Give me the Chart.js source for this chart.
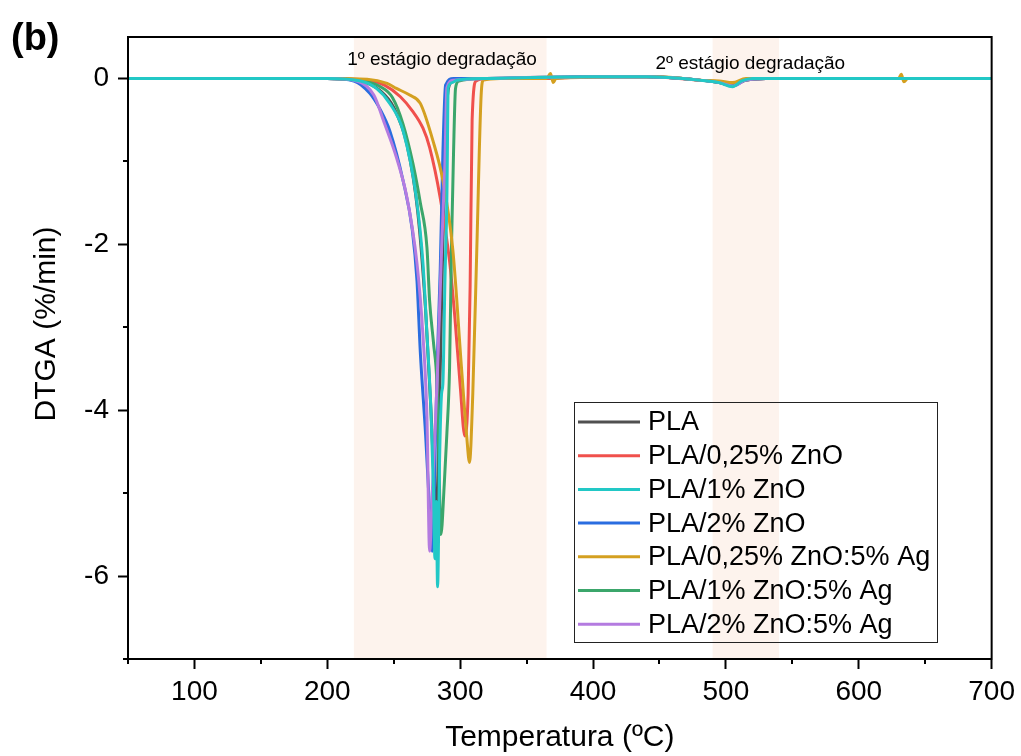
<!DOCTYPE html>
<html>
<head>
<meta charset="utf-8">
<script src="https://cdn.jsdelivr.net/npm/chart.js@4.4.1/dist/chart.umd.min.js"></script>
<style>
  body { margin: 0; background: #fff; }
  canvas { display: block; }
</style>
</head>
<body>
<canvas id="myChart" width="1021" height="756"></canvas>
<script>
// temperatures (ºC) and DTGA values (%/min)
const plaT = [50, 200, 225, 240, 250, 260, 268, 274, 278, 282, 285, 288, 290, 293, 300, 350, 400, 440, 480, 495, 505, 515, 530, 700];
const plaY = [0, 0, -0.03, -0.15, -0.35, -0.8, -1.6, -2.8, -4.0, -5.2, -3.5, -1.2, -0.3, -0.05, 0, 0, 0.02, 0.02, -0.02, -0.05, -0.08, -0.02, 0, 0];

const zn025T = [50, 200, 230, 243, 255, 264, 272, 277, 285, 292, 296, 300, 303.5, 306, 307.5, 309, 312, 320, 360, 400, 440, 480, 495, 505, 515, 530, 700];
const zn025Y = [0, 0, -0.02, -0.08, -0.22, -0.39, -0.6, -0.83, -1.44, -2.2, -2.88, -3.7, -4.31, -3.8, -2.5, -0.5, -0.03, 0, 0, 0.02, 0.02, -0.02, -0.04, -0.07, -0.02, 0, 0];

const zn1T = [50, 200, 225, 237, 247, 257, 267, 272, 275, 278, 280, 281, 282, 283, 284.5, 286, 287, 288.5, 290, 291, 294, 297.5, 320, 400, 440, 480, 495, 505, 512, 520, 700];
const zn1Y = [0, 0, -0.03, -0.12, -0.3, -0.63, -1.44, -2.23, -3.08, -4.0, -5.0, -5.79, -5.1, -6.13, -4.6, -3.8, -3.68, -2.47, -1.44, -0.11, -0.05, -0.02, 0, 0.02, 0.02, -0.02, -0.05, -0.1, -0.03, 0, 0];

const zn2T = [50, 200, 220, 232, 240, 247, 257, 264, 267.5, 270, 274, 277, 279, 281, 283, 285, 287, 289, 295, 320, 400, 440, 480, 495, 505, 515, 530, 700];
const zn2Y = [0, 0, -0.03, -0.18, -0.38, -0.63, -1.23, -1.83, -2.44, -3.3, -4.3, -5.2, -5.7, -4.6, -3.3, -2.3, -0.9, -0.08, 0, 0, 0.02, 0.02, -0.02, -0.05, -0.09, -0.02, 0, 0];

const zn025AgT = [50, 200, 230, 245, 252, 262, 270, 279.5, 287, 294.5, 301, 305, 307, 309.5, 312.5, 316, 317.5, 330, 365, 368, 370, 372, 380, 420, 450, 480, 495, 505, 515, 530, 630, 632, 634, 637, 700];
const zn025AgY = [0, 0, -0.01, -0.06, -0.12, -0.2, -0.3, -0.75, -1.23, -2.07, -3.49, -4.33, -4.63, -3.8, -2.07, -0.14, -0.02, 0, 0, 0.06, -0.05, 0, 0.01, 0.02, 0.02, -0.02, -0.03, -0.05, 0, 0, 0, 0.05, -0.04, 0, 0];

const zn1AgT = [50, 200, 225, 240, 249, 257, 264.5, 270, 275, 277, 280, 282.5, 284, 285.5, 288, 290, 292, 293.5, 295, 296.5, 299, 320, 400, 440, 480, 495, 505, 515, 530, 700];
const zn1AgY = [0, 0, -0.02, -0.1, -0.23, -0.55, -1.03, -1.5, -2.04, -2.68, -3.2, -3.68, -4.6, -5.5, -4.9, -4.28, -3.5, -2.0, -0.9, -0.12, -0.03, 0, 0.02, 0.02, -0.02, -0.05, -0.08, -0.02, 0, 0];

const zn2AgT = [50, 200, 222, 235, 243, 252, 260, 267.5, 272, 275, 277, 279, 281, 283, 286, 288.5, 290, 295, 320, 400, 440, 480, 495, 505, 515, 530, 700];
const zn2AgY = [0, 0, -0.03, -0.2, -0.54, -0.95, -1.44, -2.23, -3.1, -4.09, -5.7, -5.0, -4.3, -3.49, -2.07, -1.03, -0.11, -0.02, 0, 0.02, 0.02, -0.02, -0.05, -0.09, -0.02, 0, 0];

const seriesLabels = ['PLA', 'PLA/0,25% ZnO', 'PLA/1% ZnO', 'PLA/2% ZnO', 'PLA/0,25% ZnO:5% Ag', 'PLA/1% ZnO:5% Ag', 'PLA/2% ZnO:5% Ag'];
const seriesColors = ['#505050', '#f0504c', '#22c8c6', '#2a6de0', '#d4a020', '#3ba66b', '#b47be0'];
const seriesT = [plaT, zn025T, zn1T, zn2T, zn025AgT, zn1AgT, zn2AgT];
const seriesY = [plaY, zn025Y, zn1Y, zn2Y, zn025AgY, zn1AgY, zn2AgY];
// lower order = drawn on top
const drawOrder = [7, 6, 1, 5, 3, 4, 2];

const xTicks = [50, 100, 150, 200, 250, 300, 350, 400, 450, 500, 550, 600, 650, 700];
const yTicks = [-7, -6, -5, -4, -3, -2, -1, 0];

// shaded degradation stages and their captions
const stageRanges = [[220, 365], [490, 540]];
const stageLabels = ['1º estágio degradação', '2º estágio degradação'];
const stageLabelX = [215, 447];

const FONT = '"Liberation Sans", Arial, sans-serif';

function makeData(ts, ys){
    let arr = [];
    for(let i = 0; i < ts.length; i++){
        arr.push({x: ts[i], y: ys[i]});
    }
    return arr;
}

const datasets = [];
for(let i = 0; i < seriesLabels.length; i++){
    datasets.push({
        label: seriesLabels[i],
        data: makeData(seriesT[i], seriesY[i]),
        borderColor: seriesColors[i],
        backgroundColor: seriesColors[i],
        borderWidth: 3,
        pointRadius: 0,
        cubicInterpolationMode: 'monotone',
        order: drawOrder[i]
    });
}

const stagePlugin = {
    id: 'stages',
    beforeDatasetsDraw(chart){
        const ctx = chart.ctx;
        const xs = chart.scales.x;
        const area = chart.chartArea;
        ctx.save();
        ctx.fillStyle = '#fdf3ed';
        for(let i = 0; i < stageRanges.length; i++){
            let x1 = xs.getPixelForValue(stageRanges[i][0]);
            let x2 = xs.getPixelForValue(stageRanges[i][1]);
            ctx.fillRect(x1, area.top, x2 - x1, area.bottom - area.top);
        }
        ctx.fillStyle = '#000';
        ctx.font = '19px ' + FONT;
        ctx.textAlign = 'left';
        ctx.textBaseline = 'alphabetic';
        ctx.fillText(stageLabels[0], xs.getPixelForValue(stageLabelX[0]), area.top + 28);
        ctx.fillText(stageLabels[1], xs.getPixelForValue(stageLabelX[1]), area.top + 32);
        ctx.restore();
    }
};

const framePlugin = {
    id: 'frame',
    afterDraw(chart){
        const ctx = chart.ctx;
        const a = chart.chartArea;
        const xs = chart.scales.x;
        const ys = chart.scales.y;
        ctx.save();
        ctx.strokeStyle = '#000';
        ctx.lineWidth = 2;
        ctx.strokeRect(a.left, a.top, a.right - a.left, a.bottom - a.top);
        // minor ticks
        ctx.beginPath();
        for(let v of xTicks){
            if(v % 100 !== 0){
                let px = Math.round(xs.getPixelForValue(v));
                ctx.moveTo(px, a.bottom);
                ctx.lineTo(px, a.bottom + 5);
            }
        }
        for(let v of yTicks){
            if(v % 2 !== 0){
                let py = Math.round(ys.getPixelForValue(v));
                ctx.moveTo(a.left - 5, py);
                ctx.lineTo(a.left, py);
            }
        }
        ctx.stroke();

        // y axis title (sits a bit above the plot centre, like the original)
        ctx.save();
        ctx.translate(47, 324);
        ctx.rotate(-Math.PI / 2);
        ctx.font = '30px ' + FONT;
        ctx.fillStyle = '#000';
        ctx.textAlign = 'center';
        ctx.textBaseline = 'middle';
        ctx.fillText('DTGA (%/min)', 0, 0);
        ctx.restore();

        // legend box
        const lx = 574, ly = 402, lw = 363, lh = 240;
        ctx.lineWidth = 1;
        ctx.strokeStyle = '#222';
        ctx.strokeRect(lx + 0.5, ly + 0.5, lw, lh);
        ctx.font = '27px ' + FONT;
        ctx.textAlign = 'left';
        ctx.textBaseline = 'middle';
        for(let i = 0; i < seriesLabels.length; i++){
            let y = 422 + i * 33.7;
            ctx.strokeStyle = seriesColors[i];
            ctx.lineWidth = 3;
            ctx.beginPath();
            ctx.moveTo(578, y);
            ctx.lineTo(640, y);
            ctx.stroke();
            ctx.fillStyle = '#000';
            ctx.fillText(seriesLabels[i], 648, y + 1);
        }

        // panel label
        ctx.font = 'bold 38px ' + FONT;
        ctx.textBaseline = 'alphabetic';
        ctx.fillText('(b)', 11, 50);
        ctx.restore();
    }
};

const config = {
    type: 'line',
    data: { datasets: datasets },
    options: {
        responsive: false,
        animation: false,
        devicePixelRatio: 1,
        layout: { padding: { left: 0, right: 29, top: 37, bottom: 0 } },
        plugins: {
            legend: { display: false },
            tooltip: { enabled: false }
        },
        scales: {
            x: {
                type: 'linear',
                min: 50,
                max: 700,
                afterBuildTicks: function(scale){
                    scale.ticks = xTicks.map(v => ({value: v}));
                },
                afterFit: function(scale){ scale.height = 97; },
                ticks: {
                    autoSkip: false,
                    maxRotation: 0,
                    padding: 6,
                    color: '#000',
                    font: { family: FONT, size: 28 },
                    callback: v => (v % 100 === 0 ? String(v) : '')
                },
                grid: {
                    drawOnChartArea: false,
                    tickLength: 10,
                    tickWidth: 2,
                    tickColor: ctx => (ctx.tick && ctx.tick.value % 100 === 0 ? '#000' : 'rgba(0,0,0,0)')
                },
                border: { display: true, color: '#000', width: 2 },
                title: {
                    display: true,
                    text: 'Temperatura (ºC)',
                    color: '#000',
                    font: { family: FONT, size: 30 },
                    padding: { top: 0, bottom: 0 }
                }
            },
            y: {
                type: 'linear',
                min: -7,
                max: 0.5,
                afterBuildTicks: function(scale){
                    scale.ticks = yTicks.map(v => ({value: v}));
                },
                afterFit: function(scale){ scale.width = 128; },
                ticks: {
                    padding: 9,
                    color: '#000',
                    font: { family: FONT, size: 28 },
                    callback: v => (v % 2 === 0 ? String(v) : '')
                },
                grid: {
                    drawOnChartArea: false,
                    tickLength: 10,
                    tickWidth: 2,
                    tickColor: ctx => (ctx.tick && ctx.tick.value % 2 === 0 ? '#000' : 'rgba(0,0,0,0)')
                },
                border: { display: true, color: '#000', width: 2 }
            }
        }
    },
    plugins: [stagePlugin, framePlugin]
};

var myChart = new Chart(document.getElementById('myChart'), config);
</script>
</body>
</html>
